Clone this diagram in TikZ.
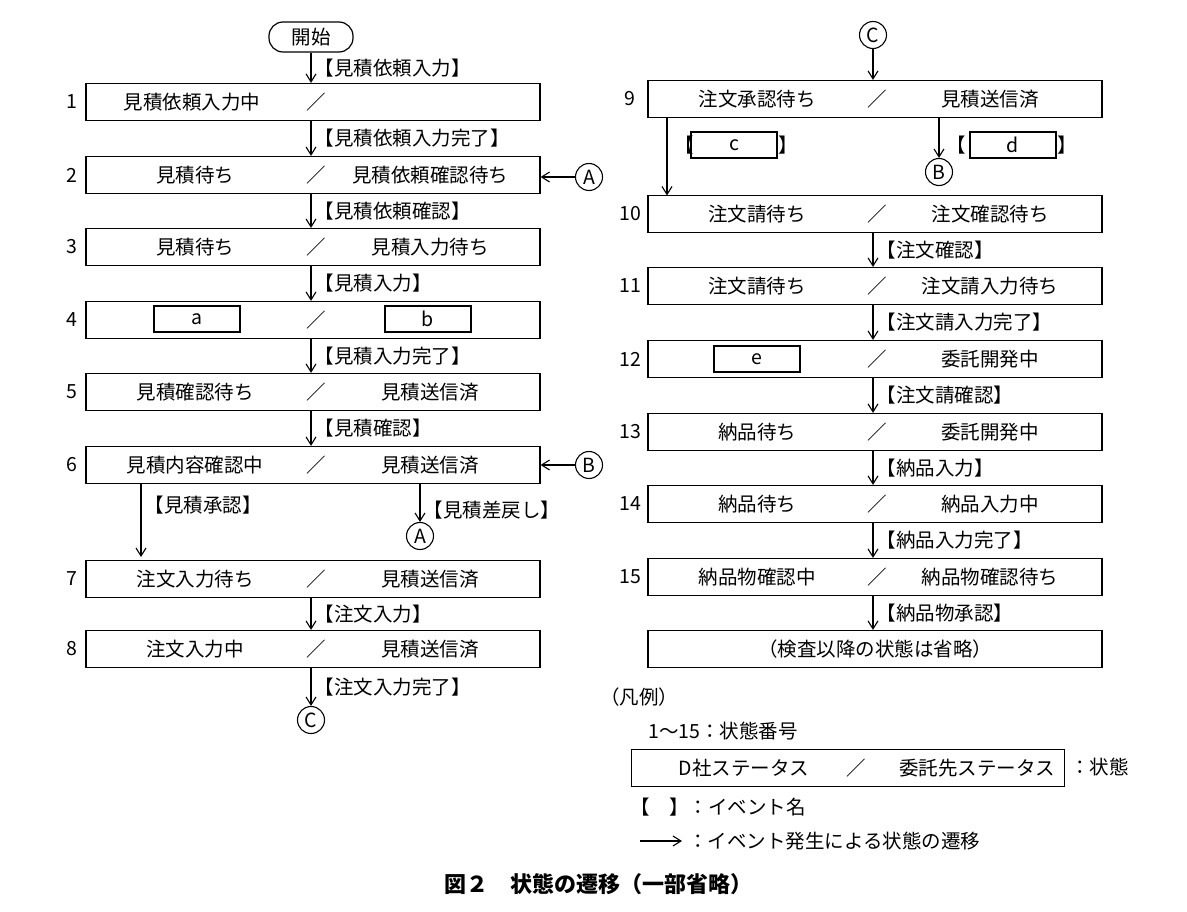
\documentclass[tikz,border=0pt]{standalone}
\usepackage{fontspec}
\setmainfont{Noto Sans CJK JP}
\usetikzlibrary{arrows.meta}
\begin{document}
\fontsize{19.5pt}{23pt}\selectfont
\begin{tikzpicture}[x=1pt,y=-1pt,
  st/.style={draw,line width=1.2pt,minimum width=454pt,minimum height=37pt,inner sep=0},
  hb/.style={draw,line width=2.4pt,minimum width=86pt,minimum height=26pt,inner sep=0},
  arr/.style={line width=1.1pt,-{Straight Barb[length=8pt,width=10pt]}},
  lab/.style={right,xshift=1pt,inner sep=2pt},
  cir/.style={draw,circle,line width=1.1pt,minimum size=27pt,inner sep=0},
  num/.style={inner sep=0}]
\useasboundingbox (0,0) rectangle (1187,912);
% left column
\node[draw,rounded corners=14pt,line width=1.2pt,minimum width=84pt,minimum height=30pt,inner sep=0] (start) at (311,37) {開始};
\newcommand\lrow[5]{%
  \node[st] (#1) at (313,#3) {};
  \node[num] at (72,#3) {#2};
  \node at (316,#3) {／};
  \node at (#4,#3) {#5};}
\lrow{L1}{1}{102}{192}{見積依頼入力中}
\lrow{L2}{2}{175}{195}{見積待ち}
\node at (430,175) {見積依頼確認待ち};
\lrow{L3}{3}{247}{195}{見積待ち}
\node at (430,247) {見積入力待ち};
\lrow{L4}{4}{320}{195}{}
\node[hb] (ba) at (197,319) {a};
\node[hb] (bb) at (428,319) {b};
\lrow{L5}{5}{392}{195}{見積確認待ち}
\node at (430,392) {見積送信済};
\lrow{L6}{6}{465}{195}{見積内容確認中}
\node at (430,465) {見積送信済};
\lrow{L7}{7}{579}{195}{注文入力待ち}
\node at (430,579) {見積送信済};
\lrow{L8}{8}{649}{195}{注文入力中}
\node at (430,649) {見積送信済};
\draw[arr] (start.south) -- node[lab]{【見積依頼入力】} (L1.north -| start);
\draw[arr] (L1.south -| start) -- node[lab]{【見積依頼入力完了】} (L2.north -| start);
\draw[arr] (L2.south -| start) -- node[lab]{【見積依頼確認】} (L3.north -| start);
\draw[arr] (L3.south -| start) -- node[lab]{【見積入力】} (L4.north -| start);
\draw[arr] (L4.south -| start) -- node[lab]{【見積入力完了】} (L5.north -| start);
\draw[arr] (L5.south -| start) -- node[lab]{【見積確認】} (L6.north -| start);
\draw[arr] (L7.south -| start) -- node[lab]{【注文入力】} (L8.north -| start);
\node[cir] (cA1) at (589,177) {A};
\draw[arr] (cA1) -- (cA1 -| L2.east);
\node[cir] (cB1) at (589,465) {B};
\draw[arr] (cB1) -- (cB1 -| L6.east);
\coordinate (p6a) at (141,483.5);
\draw[arr] (p6a) -- node[lab,yshift=15pt]{【見積承認】} (141,557);
\node[cir] (cA2) at (420,536) {A};
\coordinate (p6b) at (420,483.5);
\draw[arr] (p6b) -- node[lab,yshift=-7pt]{【見積差戻し】} (cA2);
\node[cir] (cC1) at (311,720) {C};
\draw[arr] (L8.south -| start) -- node[lab]{【注文入力完了】} (cC1);
% right column
\newcommand\rrow[6]{%
  \node[st] (#1) at (875,#3) {};
  \node[num] at (630,#3) {#2};
  \node at (877,#3) {／};
  \node at (757,#3) {#4};
  \node at (990,#3) {#5};}
\node[cir] (cC2) at (873,35) {C};
\rrow{R9}{9}{99}{注文承認待ち}{見積送信済}{}
\rrow{R10}{10}{214}{注文請待ち}{注文確認待ち}{}
\rrow{R11}{11}{286}{注文請待ち}{注文請入力待ち}{}
\rrow{R12}{12}{359}{}{委託開発中}{}
\node[hb] (be) at (757,359) {e};
\rrow{R13}{13}{432}{納品待ち}{委託開発中}{}
\rrow{R14}{14}{504}{納品待ち}{納品入力中}{}
\rrow{R15}{15}{577}{納品物確認中}{納品物確認待ち}{}
\node[st] (R16) at (875,649) {（検査以降の状態は省略）};
\draw[arr] (cC2) -- (R9.north -| cC2);
\draw[arr] (R10.south -| cC2) -- node[lab]{【注文確認】} (R11.north -| cC2);
\draw[arr] (R11.south -| cC2) -- node[lab]{【注文請入力完了】} (R12.north -| cC2);
\draw[arr] (R12.south -| cC2) -- node[lab]{【注文請確認】} (R13.north -| cC2);
\draw[arr] (R13.south -| cC2) -- node[lab]{【納品入力】} (R14.north -| cC2);
\draw[arr] (R14.south -| cC2) -- node[lab]{【納品入力完了】} (R15.north -| cC2);
\draw[arr] (R15.south -| cC2) -- node[lab]{【納品物承認】} (R16.north -| cC2);
\coordinate (p9a) at (667,117.5);
\draw[arr] (p9a) -- (667,195.5);
\node (bc1) at (684,145) {【};
\node[hb] (bc) at (734,145) {c};
\node (bc2) at (788,145) {】};
\node[cir] (cB2) at (939,172) {B};
\coordinate (p9b) at (939,117.5);
\draw[arr] (p9b) -- (cB2);
\node (bd1) at (956,145) {【};
\node[hb] (bd) at (1013,145) {d};
\node (bd2) at (1067,145) {】};
% legend
\node[right,inner sep=0] (lg1) at (600,697) {（凡例）};
\node[right,inner sep=0] (lg2) at (648,731) {1〜15：状態番号};
\node[draw,line width=1.2pt,minimum width=433pt,minimum height=37pt,inner sep=0] (lgb) at (848,768) {};
\node at (744,768) {D社ステータス};
\node at (856,768) {／};
\node at (977,768) {委託先ステータス};
\node[right,inner sep=0] (lg3) at (1070,767) {：状態};
\node[right,inner sep=0] (lg4) at (630,807) {【\hspace{1em}】：イベント名};
\coordinate (la1) at (640,841);
\coordinate (la2) at (682,841);
\draw[arr] (la1) -- (la2);
\node[right,inner sep=0] (lg5) at (688,841) {：イベント発生による状態の遷移};
\node[font=\bfseries\fontsize{22pt}{26pt}\selectfont] (title) at (598,884) {図２　状態の遷移（一部省略）};
\end{tikzpicture}
\end{document}
